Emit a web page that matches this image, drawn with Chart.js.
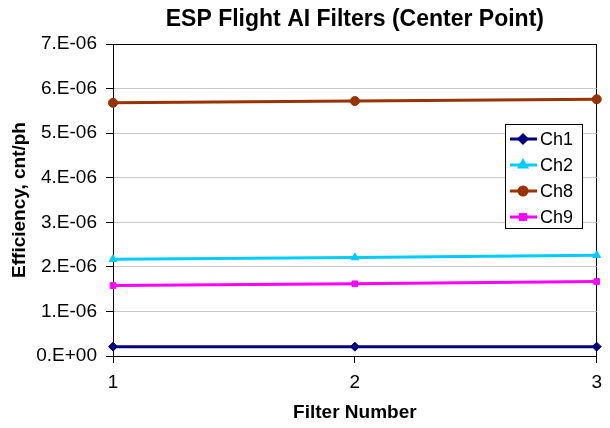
<!DOCTYPE html>
<html>
<head>
<meta charset="utf-8">
<script src="https://cdn.jsdelivr.net/npm/chart.js@4.4.0/dist/chart.umd.min.js"></script>
<style>
  html, body { margin: 0; padding: 0; background: #fff; }
  #wrap { width: 610px; height: 428px; }
</style>
</head>
<body>
<div id="wrap"><canvas id="chart" width="610" height="428"></canvas></div>
<script>
// Data
const filterNumbers = ['1', '2', '3'];
const ch1 = [2.1e-7, 2.1e-7, 2.1e-7];
const ch2 = [2.17e-6, 2.21e-6, 2.26e-6];
const ch8 = [5.68e-6, 5.72e-6, 5.76e-6];
const ch9 = [1.58e-6, 1.62e-6, 1.67e-6];
const yTickLabels = ['0.E+00', '1.E-06', '2.E-06', '3.E-06', '4.E-06', '5.E-06', '6.E-06', '7.E-06'];

const FONT = '"Liberation Sans", Arial, sans-serif';

function series(label, data, color, pointStyle, radius) {
  return {
    label: label,
    data: data,
    borderColor: color,
    backgroundColor: color,
    borderWidth: 3,
    pointStyle: pointStyle,
    pointRadius: radius,
    pointBorderWidth: 1,
    tension: 0,
    clip: false,
  };
}

// Title, axis titles and boxed legend drawn by hand
const decorations = {
  id: 'decorations',
  afterDraw(chart) {
    const ctx = chart.ctx;
    const area = chart.chartArea;
    const cx = (area.left + area.right) / 2;
    ctx.save();
    ctx.fillStyle = '#000';
    ctx.textAlign = 'center';
    ctx.textBaseline = 'middle';

    ctx.font = 'bold 23px ' + FONT;
    ctx.fillText('ESP Flight AI Filters (Center Point)', cx, 20);

    ctx.font = 'bold 19px ' + FONT;
    ctx.fillText('Filter Number', cx, 413);

    ctx.save();
    ctx.translate(20, (area.top + area.bottom) / 2);
    ctx.rotate(-Math.PI / 2);
    ctx.fillText('Efficiency, cnt/ph', 0, 0);
    ctx.restore();

    // legend
    const box = { x: 505, y: 124, w: 77, h: 104 };
    ctx.fillStyle = '#fff';
    ctx.fillRect(box.x, box.y, box.w, box.h);
    ctx.strokeStyle = '#000';
    ctx.lineWidth = 1;
    ctx.strokeRect(box.x + 0.5, box.y + 0.5, box.w, box.h);

    ctx.font = '18px ' + FONT;
    ctx.textAlign = 'left';
    chart.data.datasets.forEach((ds, i) => {
      const y = box.y + 15 + i * 26;
      ctx.strokeStyle = ds.borderColor;
      ctx.lineWidth = 3;
      ctx.beginPath();
      ctx.moveTo(box.x + 5, y);
      ctx.lineTo(box.x + 32, y);
      ctx.stroke();
      Chart.helpers.drawPoint(ctx, {
        pointStyle: ds.pointStyle,
        radius: ds.pointRadius - 0.5,
        borderWidth: 1,
        rotation: 0,
      }, box.x + 18, y);
      ctx.fillStyle = ds.borderColor;
      ctx.fill();
      ctx.fillStyle = '#000';
      ctx.fillText(ds.label, box.x + 35, y + 1);
    });
    ctx.restore();
  }
};

const chart = new Chart(document.getElementById('chart').getContext('2d'), {
  type: 'line',
  data: {
    labels: filterNumbers,
    datasets: [
      series('Ch1', ch1, '#000080', 'rectRot', 4.5),
      series('Ch2', ch2, '#00ccff', 'triangle', 4.5),
      series('Ch8', ch8, '#993300', 'circle', 4.5),
      series('Ch9', ch9, '#ff00ff', 'rect', 4),
    ],
  },
  options: {
    responsive: false,
    animation: false,
    layout: { padding: { left: 0, right: 11, top: 44, bottom: 0 } },
    plugins: {
      legend: { display: false },
      title: { display: false },
      tooltip: { enabled: false },
    },
    scales: {
      x: {
        offset: false,
        afterFit(scale) { scale.height = 72; },
        grid: {
          color: (c) => (c.index === 0 || c.index === filterNumbers.length - 1) ? '#000' : 'rgba(0,0,0,0)',
          tickColor: '#000',
          tickLength: 7,
          lineWidth: 1,
        },
        border: { color: '#000', width: 1 },
        ticks: {
          color: '#000',
          font: { family: FONT, size: 19 },
          padding: 8,
          maxRotation: 0,
        },
      },
      y: {
        min: 0,
        max: 7e-6,
        afterFit(scale) { scale.width = 113; },
        grid: {
          color: (c) => (c.index === yTickLabels.length - 1 || c.index === 0) ? '#000' : '#c8c8c8',
          tickColor: '#000',
          tickLength: 7,
          lineWidth: 1,
        },
        border: { color: '#000', width: 1 },
        ticks: {
          stepSize: 1e-6,
          color: '#000',
          font: { family: FONT, size: 19 },
          padding: 9,
          callback: (v, i) => yTickLabels[i],
        },
      },
    },
  },
  plugins: [decorations],
});
</script>
</body>
</html>
